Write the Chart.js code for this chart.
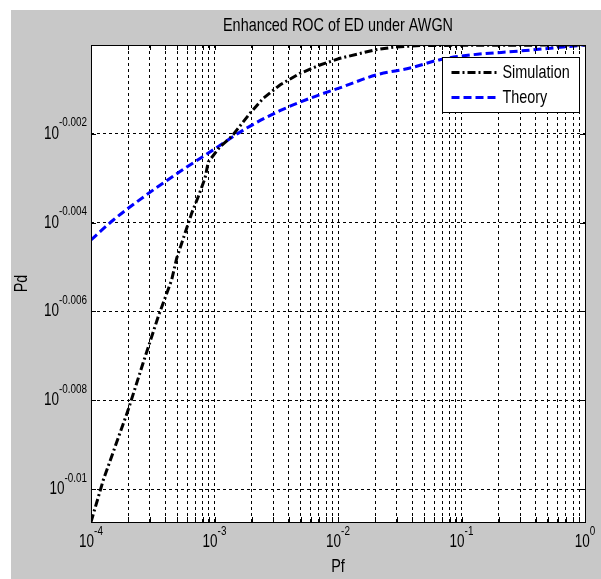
<!DOCTYPE html>
<html>
<head>
<meta charset="utf-8">
<title>Enhanced ROC of ED under AWGN</title>
<script src="https://cdn.jsdelivr.net/npm/chart.js@4.4.1/dist/chart.umd.min.js"></script>
<style>
  html, body { margin: 0; padding: 0; background: #fff; }
  #wrap { width: 601px; height: 579px; }
</style>
</head>
<body>
<div id="wrap"><canvas id="rocChart" width="601" height="579"></canvas></div>
<script>
// Simulation curve
const simPf = [1e-4, 1.259e-4, 2.004e-4, 2.649e-4, 3.508e-4, 4.498e-4, 4.943e-4, 6.531e-4,
  7.396e-4, 8.375e-4, 8.913e-4, 1.109e-3, 1.377e-3, 1.936e-3, 2.483e-3, 3.388e-3,
  4.920e-3, 7.145e-3, 1.038e-2, 1.507e-2, 1.995e-2, 2.786e-2, 4.613e-2, 1];
const simPd = [0.975573, 0.977710, 0.981274, 0.983672, 0.986030, 0.987893, 0.989009, 0.991311,
  0.992179, 0.993116, 0.993962, 0.994741, 0.995268, 0.996460, 0.997241, 0.997930,
  0.998527, 0.998964, 0.999310, 0.999563, 0.999747, 0.999885, 0.999977, 1];

// Theory curve
const theoryPf = [1e-4, 1.517e-4, 2.825e-4, 5.26e-4, 9.77e-4, 1.824e-3, 3.388e-3, 5.93e-3,
  1.096e-2, 2.056e-2, 3.828e-2, 6.699e-2, 0.1172, 0.2979, 1];
const theoryPd = [0.989943, 0.990969, 0.992270, 0.993459, 0.994581, 0.995703, 0.996598, 0.997241,
  0.997838, 0.998458, 0.998804, 0.999240, 0.999480, 0.999690, 1];

// Axes
const xTickExps = [-4, -3, -2, -1, 0];
const xTickLabels = ["-4", "-3", "-2", "-1", "0"];
const xMinorSteps = [2, 3, 4, 5, 6, 7, 8, 9];
const yTickExps = [-0.01, -0.008, -0.006, -0.004, -0.002];
const yTickLabels = ["-0.01", "-0.008", "-0.006", "-0.004", "-0.002"];
const yMinExp = -0.01074;
const yMaxExp = 0;

const FONT = '"Liberation Sans", Arial, sans-serif';
const NARROW = 0.9;
const TALL = 1.2;

// all x grid values: decades plus 2..9 in between
const xGridValues = [];
xTickExps.forEach((e, i) => {
    xGridValues.push(Math.pow(10, e));
    if (i < xTickExps.length - 1) {
        xMinorSteps.forEach(s => xGridValues.push(s * Math.pow(10, e)));
    }
});

function drawText(ctx, str, x, y, size, align) {
    ctx.save();
    ctx.translate(x, y);
    ctx.scale(NARROW, TALL);
    ctx.font = size + "px " + FONT;
    ctx.textAlign = align;
    ctx.textBaseline = "middle";
    ctx.fillText(str, 0, 0);
    ctx.restore();
}

function textWidth(ctx, str, size) {
    ctx.save();
    ctx.font = size + "px " + FONT;
    const w = ctx.measureText(str).width * NARROW;
    ctx.restore();
    return w;
}

// "10" with a raised exponent
function drawPower(ctx, x, y, exp, align) {
    const baseW = textWidth(ctx, "10", 15);
    const supW = textWidth(ctx, exp, 11);
    const total = baseW + supW;
    const start = align === "center" ? x - total / 2 : x - total;
    drawText(ctx, "10", start, y, 15, "left");
    drawText(ctx, exp, start + baseW, y - 11, 11, "left");
}

const matlabLook = {
    id: "matlabLook",
    beforeDraw(chart) {
        const { ctx, chartArea: a } = chart;
        ctx.save();
        ctx.fillStyle = "#ffffff";
        ctx.fillRect(0, 0, chart.width, chart.height);
        ctx.fillStyle = "#c8c8c8";
        ctx.fillRect(11, 10, chart.width - 11, chart.height - 10);
        ctx.fillStyle = "#ffffff";
        ctx.fillRect(a.left, a.top, a.right - a.left, a.bottom - a.top);
        ctx.restore();
    },
    afterDraw(chart) {
        const { ctx, chartArea: a } = chart;
        const xs = chart.scales.x;
        const ys = chart.scales.y;

        ctx.save();
        ctx.strokeStyle = "#000";
        ctx.lineWidth = 1;
        ctx.setLineDash([]);

        // tick marks inside the box
        ctx.beginPath();
        xs.ticks.forEach(t => {
            const px = Math.round(xs.getPixelForValue(t.value)) + 0.5;
            ctx.moveTo(px, a.top); ctx.lineTo(px, a.top + 5);
            ctx.moveTo(px, a.bottom); ctx.lineTo(px, a.bottom - 5);
        });
        ys.ticks.forEach(t => {
            const py = Math.round(ys.getPixelForValue(t.value)) + 0.5;
            ctx.moveTo(a.left, py); ctx.lineTo(a.left + 5, py);
            ctx.moveTo(a.right, py); ctx.lineTo(a.right - 5, py);
        });
        ctx.stroke();

        // axes box
        ctx.strokeRect(Math.round(a.left) + 0.5, Math.round(a.top) + 0.5,
            Math.round(a.right - a.left), Math.round(a.bottom - a.top));

        ctx.fillStyle = "#000";

        // tick labels
        xTickExps.forEach((e, i) => {
            const px = xs.getPixelForValue(Math.pow(10, e));
            drawPower(ctx, px, a.bottom + 20, xTickLabels[i], "center");
        });
        yTickExps.forEach((e, i) => {
            const py = ys.getPixelForValue(Math.pow(10, e));
            drawPower(ctx, a.left - 4, py, yTickLabels[i], "right");
        });

        // titles
        const cx = (a.left + a.right) / 2;
        drawText(ctx, "Enhanced ROC of ED under AWGN", cx, 26, 16, "center");
        drawText(ctx, "Pf", cx, 567, 16, "center");
        ctx.save();
        ctx.translate(22, (a.top + a.bottom) / 2);
        ctx.rotate(-Math.PI / 2);
        drawText(ctx, "Pd", 0, 0, 16, "center");
        ctx.restore();

        // legend
        const lw = 137, lh = 55;
        const lx = Math.round(a.right - 6 - lw) + 0.5;
        const ly = Math.round(a.top + 12) + 0.5;
        ctx.fillStyle = "#fff";
        ctx.fillRect(lx, ly, lw, lh);
        ctx.strokeStyle = "#000";
        ctx.lineWidth = 1;
        ctx.strokeRect(lx, ly, lw, lh);

        chart.data.datasets.forEach((ds, i) => {
            const y = ly + 15 + i * 25;
            ctx.beginPath();
            ctx.strokeStyle = ds.borderColor;
            ctx.lineWidth = ds.borderWidth;
            ctx.setLineDash(ds.borderDash);
            ctx.moveTo(lx + 9, y);
            ctx.lineTo(lx + 55, y);
            ctx.stroke();
            ctx.setLineDash([]);
            ctx.fillStyle = "#000";
            drawText(ctx, ds.label, lx + 60, y, 16, "left");
        });
        ctx.restore();
    }
};

const toPoints = (xv, yv) => xv.map((x, i) => ({ x: x, y: yv[i] }));

new Chart(document.getElementById("rocChart"), {
    type: "scatter",
    data: {
        datasets: [
            {
                label: "Simulation",
                data: toPoints(simPf, simPd),
                showLine: true,
                borderColor: "#000000",
                borderWidth: 3,
                borderDash: [8, 3, 2, 3],
                pointRadius: 0,
                tension: 0
            },
            {
                label: "Theory",
                data: toPoints(theoryPf, theoryPd),
                showLine: true,
                borderColor: "#0000ff",
                borderWidth: 3,
                borderDash: [8, 4],
                pointRadius: 0,
                cubicInterpolationMode: "monotone"
            }
        ]
    },
    options: {
        responsive: false,
        animation: false,
        devicePixelRatio: 1,
        layout: { padding: { left: 91, top: 45, right: 16, bottom: 57 } },
        plugins: {
            legend: { display: false },
            title: { display: false },
            tooltip: { enabled: false }
        },
        scales: {
            x: {
                type: "logarithmic",
                position: "bottom",
                bounds: "data",
                min: Math.pow(10, xTickExps[0]),
                max: Math.pow(10, xTickExps[xTickExps.length - 1]),
                afterBuildTicks: scale => {
                    scale.ticks = xGridValues.map(v => ({ value: v }));
                },
                ticks: { display: false },
                grid: { color: "#000", lineWidth: 1, drawTicks: false },
                border: { display: false, dash: [3, 3] }
            },
            y: {
                type: "logarithmic",
                position: "left",
                bounds: "data",
                min: Math.pow(10, yMinExp),
                max: Math.pow(10, yMaxExp),
                afterBuildTicks: scale => {
                    scale.ticks = yTickExps.map(e => ({ value: Math.pow(10, e) }));
                },
                ticks: { display: false },
                grid: { color: "#000", lineWidth: 1, drawTicks: false },
                border: { display: false, dash: [3, 3] }
            }
        }
    },
    plugins: [matlabLook]
});
</script>
</body>
</html>
